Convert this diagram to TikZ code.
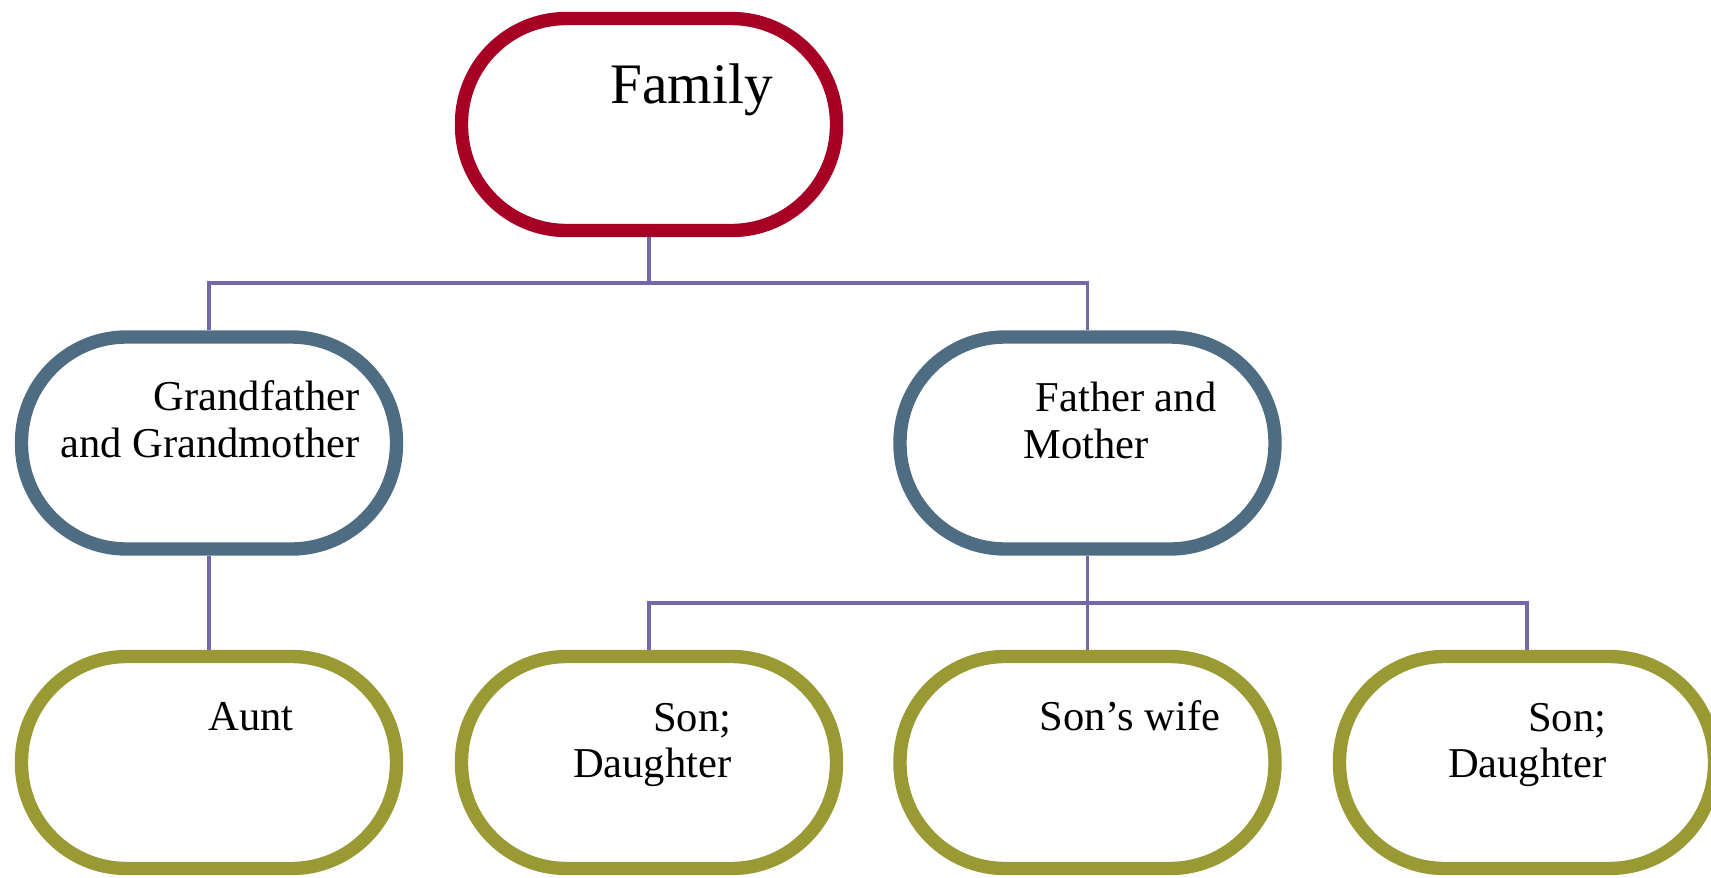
\documentclass[tikz,border=0pt]{standalone}
\usepackage{fontspec}
\setmainfont{Liberation Serif}
\usetikzlibrary{backgrounds}
\definecolor{famred}{RGB}{166,0,36}
\definecolor{parblue}{RGB}{78,108,130}
\definecolor{kidolive}{RGB}{154,154,52}
\definecolor{linkpurple}{RGB}{114,104,170}
\begin{document}
\begin{tikzpicture}[
    box/.style={draw,line width=3.8pt,fill=white,rounded corners=1.05cm,
      minimum width=3.75cm,minimum height=2.12cm},
    lbl/.style={font=\fontsize{12.1}{13.1}\selectfont,inner sep=0pt},
    link/.style={draw=linkpurple,line width=1.1pt}]
  \useasboundingbox (0,0) rectangle (17.11,-8.77);
  % boxes
  \node[box,draw=famred] (fam) at (6.49,-1.245) {};
  \node[box,draw=parblue] (gp) at (2.09,-4.43) {};
  \node[box,draw=parblue] (par) at (10.875,-4.43) {};
  \node[box,draw=kidolive] (aunt) at (2.09,-7.625) {};
  \node[box,draw=kidolive] (kids1) at (6.49,-7.625) {};
  \node[box,draw=kidolive] (wife) at (10.875,-7.625) {};
  \node[box,draw=kidolive] (kids2) at (15.27,-7.625) {};
  % texts (multi-line ones sit on their last baseline)
  \node[lbl,font=\fontsize{16.3}{19}\selectfont,anchor=base west] (fam-t) at (6.10,-1.03) {Family};
  \node[lbl,align=right,anchor=base east] (gp-t) at (3.60,-4.57) {Grandfather\\and Grandmother};
  \node[lbl,align=left,anchor=base west] (par-t) at (10.23,-4.58) {\hspace*{0.12cm}Father and\\Mother};
  \node[lbl,anchor=base west] (aunt-t) at (2.08,-7.30) {Aunt};
  \node[lbl,align=right,anchor=base east] (kids1-t) at (7.32,-7.775) {Son;\\Daughter};
  \node[lbl,anchor=base west] (wife-t) at (10.39,-7.30) {Son’s wife};
  \node[lbl,align=right,anchor=base east] (kids2-t) at (16.07,-7.775) {Son;\\Daughter};
  % links
  \coordinate (top-bar) at (6.49,-2.83);
  \coordinate (low-bar) at (10.875,-6.03);
  \begin{scope}[on background layer]
    \draw[link] (fam.south) -- (top-bar);
    \draw[link] (gp.north) |- (top-bar) -| (par.north);
    \draw[link] (gp.south) -- (aunt.north);
    \draw[link] (par.south) -- (wife.north);
    \draw[link] (kids1.north) |- (low-bar) -| (kids2.north);
  \end{scope}
\end{tikzpicture}
\end{document}
